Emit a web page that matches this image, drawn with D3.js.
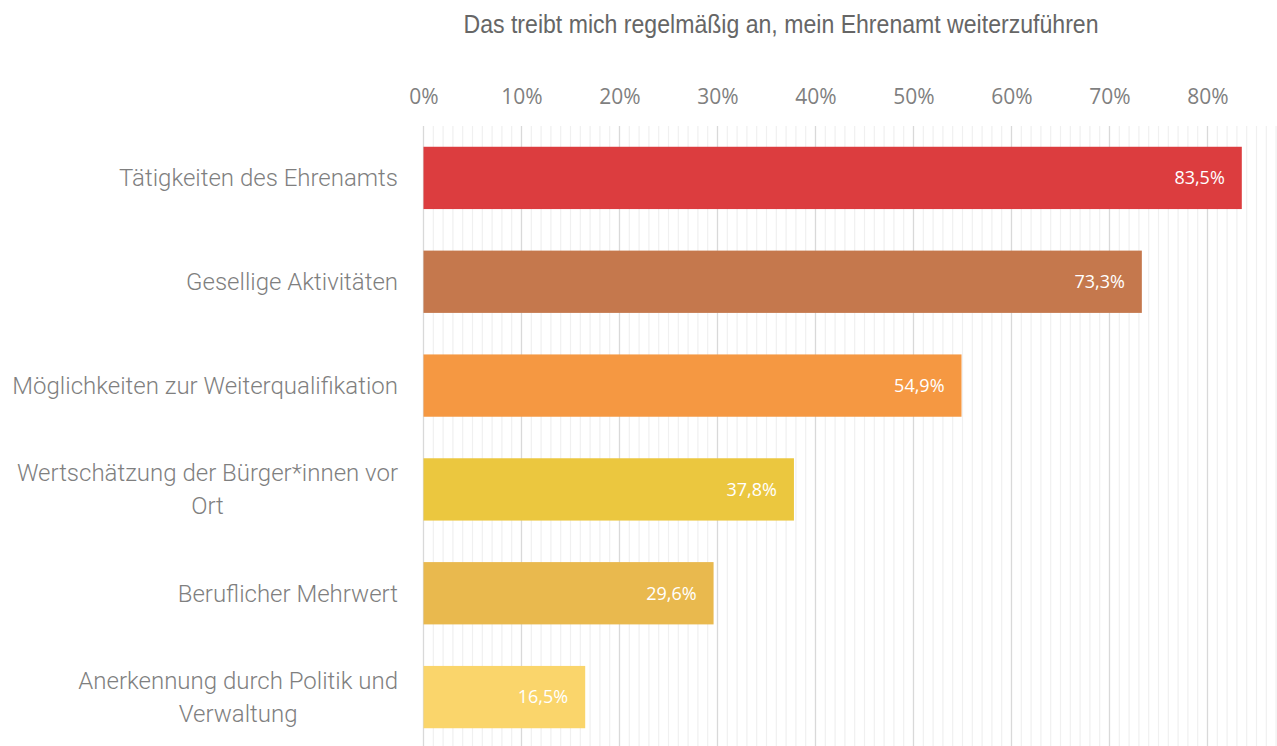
<!DOCTYPE html>
<html>
<head>
<meta charset="utf-8">
<script src="https://cdn.jsdelivr.net/npm/d3@7"></script>
<style>
  body { margin: 0; background: #fff; }
  svg { display: block; }
</style>
</head>
<body>
<div id="chart"></div>
<script>
// data
const titleText = "Das treibt mich regelmäßig an, mein Ehrenamt weiterzuführen";
const categories = [
    ["Tätigkeiten des Ehrenamts"],
    ["Gesellige Aktivitäten"],
    ["Möglichkeiten zur Weiterqualifikation"],
    ["Wertschätzung der Bürger*innen vor", "Ort"],
    ["Beruflicher Mehrwert"],
    ["Anerkennung durch Politik und", "Verwaltung"]
];
const values = [83.5, 73.3, 54.9, 37.8, 29.6, 16.5];
const barColors = ["#dc3d3f", "#c5784d", "#f59842", "#ebc73f", "#e9b94e", "#fad56b"];
const tickValues = [0, 10, 20, 30, 40, 50, 60, 70, 80];

const config = {
    width: 1277,
    height: 746,
    margin: { top: 126, left: 423.5 },
    labelRight: 398
};

const svg = d3.select("#chart")
    .append("svg")
    .attr("width", config.width)
    .attr("height", config.height);

const xScale = d3.scaleLinear()
    .domain([0, 90])
    .range([config.margin.left, config.margin.left + 882]);

const yScale = d3.scaleBand()
    .domain(d3.range(categories.length))
    .range([config.margin.top, 749])
    .paddingInner(0.4)
    .paddingOuter(0.2);

// gridlines: minor every 1%, major every 10%
const minor = d3.range(1, 91).filter(d => d % 10 !== 0);
svg.append("g")
    .selectAll("line")
    .data(minor)
    .join("line")
    .attr("x1", d => xScale(d))
    .attr("x2", d => xScale(d))
    .attr("y1", config.margin.top)
    .attr("y2", config.height)
    .attr("stroke", "#f0f0f0")
    .attr("stroke-width", 1.2);

svg.append("g")
    .selectAll("line")
    .data(d3.range(0, 91, 10))
    .join("line")
    .attr("x1", d => xScale(d))
    .attr("x2", d => xScale(d))
    .attr("y1", config.margin.top)
    .attr("y2", config.height)
    .attr("stroke", "#d9d9d9")
    .attr("stroke-width", 1.3);

// top axis
const xAxis = d3.axisTop(xScale)
    .tickValues(tickValues)
    .tickFormat(d => d + "%")
    .tickSize(0)
    .tickPadding(0);

const axisGroup = svg.append("g")
    .attr("transform", "translate(0, 104)")
    .call(xAxis);
axisGroup.select(".domain").remove();
axisGroup.selectAll("text")
    .attr("fill", "#7f7f7f")
    .style("font-family", "'Open Sans', sans-serif")
    .style("font-size", "21px");

// bars
svg.append("g")
    .selectAll("rect")
    .data(values)
    .join("rect")
    .attr("x", xScale(0))
    .attr("y", (d, i) => yScale(i))
    .attr("width", d => xScale(d) - xScale(0))
    .attr("height", yScale.bandwidth())
    .attr("fill", (d, i) => barColors[i]);

// value labels
svg.append("g")
    .selectAll("text")
    .data(values)
    .join("text")
    .attr("x", d => xScale(d) - 17)
    .attr("y", (d, i) => yScale(i) + yScale.bandwidth() / 2)
    .attr("dy", "0.35em")
    .attr("text-anchor", "end")
    .attr("fill", "#ffffff")
    .style("font-family", "'Open Sans', sans-serif")
    .style("font-size", "18px")
    .text(d => d.toFixed(1).replace(".", ",") + "%");

// category labels (wrapped ones centred in their block)
const lineHeight = 33;
categories.forEach((lines, i) => {
    const cy = yScale(i) + yScale.bandwidth() / 2;
    const g = svg.append("g");
    const texts = lines.map((t, j) => g.append("text")
        .attr("y", cy + (j - (lines.length - 1) / 2) * lineHeight)
        .attr("dy", "0.35em")
        .attr("text-anchor", "middle")
        .attr("fill", "#7f7f7f")
        .style("font-family", "Roboto, 'Liberation Sans', sans-serif")
        .style("font-weight", 300)
        .style("font-size", "24px")
        .text(t));
    const w = d3.max(texts, t => t.node().getComputedTextLength());
    texts.forEach(t => t.attr("x", config.labelRight - w / 2));
});

// title
svg.append("text")
    .attr("x", 781)
    .attr("y", 24)
    .attr("dy", "0.35em")
    .attr("text-anchor", "middle")
    .attr("fill", "#666666")
    .attr("textLength", 635)
    .attr("lengthAdjust", "spacingAndGlyphs")
    .style("font-family", "'Liberation Sans Narrow', 'Liberation Sans', sans-serif")
    .style("font-size", "25px")
    .text(titleText);
</script>
</body>
</html>
